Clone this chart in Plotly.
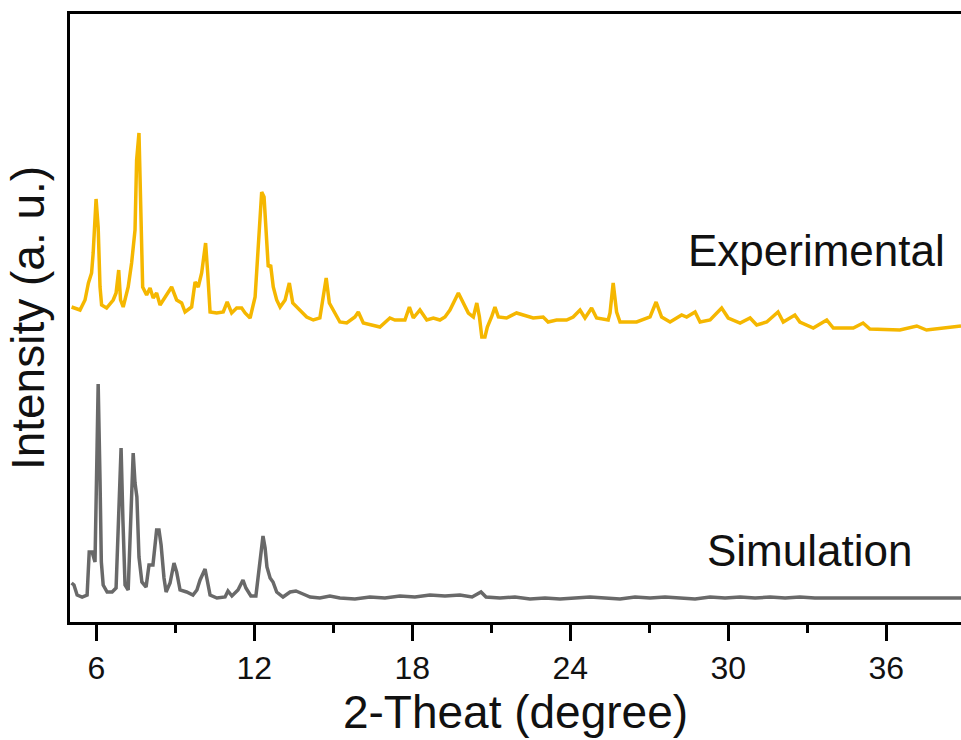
import plotly.graph_objects as go

# Powder XRD patterns: 2-theta (degree) and intensity (a.u.)
sim_theta = [5.06, 5.15, 5.27, 5.46, 5.65, 5.73, 5.84, 5.95, 6.03, 6.07, 6.14, 6.19, 6.26, 6.41,
             6.60, 6.75, 6.86, 6.94, 7.01, 7.09, 7.21, 7.28, 7.40, 7.47, 7.54, 7.62, 7.73, 7.89,
             8.00, 8.15, 8.29, 8.38, 8.46, 8.57, 8.65, 8.80, 8.95, 9.05, 9.18, 9.43, 9.67, 9.82,
             9.94, 10.13, 10.24, 10.32, 10.58, 10.89, 11.00, 11.15, 11.38, 11.57, 11.68, 11.87,
             12.06, 12.22, 12.33, 12.41, 12.48, 12.60, 12.71, 12.85, 13.09, 13.36, 13.58, 13.85,
             14.12, 14.49, 14.87, 15.25, 15.82, 16.39, 16.96, 17.53, 18.10, 18.67, 19.24, 19.81,
             20.27, 20.61, 20.80, 21.33, 21.90, 22.47, 23.04, 23.61, 24.18, 24.75, 25.32, 25.89,
             26.46, 27.03, 27.60, 28.17, 28.74, 29.31, 29.88, 30.45, 31.02, 31.59, 32.16, 32.72,
             33.29, 33.86, 35.00, 36.52, 38.84]
sim_intensity = [39, 37, 27, 25, 27, 70, 70, 60, 177, 238, 142, 60, 37, 30,
                 30, 34, 115, 174, 102, 37, 32, 92, 169, 139, 125, 65, 40, 35,
                 57, 57, 92, 92, 77, 44, 30, 39, 59, 50, 32, 30, 27, 32,
                 42, 53, 37, 27, 24, 25, 31, 26, 32, 42, 34, 26,
                 26, 62, 86, 74, 55, 44, 40, 30, 25, 30, 31, 28,
                 25, 24, 26, 24, 23, 25, 24, 26, 25, 27, 26, 27,
                 25, 30, 25, 24, 25, 23, 24, 23, 24, 25, 24, 23,
                 25, 24, 25, 24, 23, 25, 24, 25, 24, 25, 24, 25,
                 24, 24, 24, 24, 24]

exp_theta = [5.06, 5.38, 5.57, 5.70, 5.82, 5.88, 5.99, 6.07, 6.14, 6.20, 6.39, 6.64, 6.75, 6.85,
             6.92, 7.02, 7.21, 7.34, 7.47, 7.53, 7.62, 7.70, 7.76, 7.91, 8.04, 8.16, 8.29, 8.42,
             8.67, 8.86, 9.05, 9.24, 9.37, 9.62, 9.75, 9.87, 10.00, 10.15, 10.23, 10.32, 10.57,
             10.82, 10.97, 11.14, 11.33, 11.52, 11.65, 11.84, 12.03, 12.15, 12.22, 12.28, 12.37,
             12.44, 12.53, 12.62, 12.72, 12.85, 12.98, 13.17, 13.33, 13.46, 13.74, 13.99, 14.24,
             14.49, 14.73, 14.85, 15.06, 15.25, 15.51, 15.82, 15.95, 16.14, 16.77, 17.15, 17.34,
             17.72, 17.89, 18.04, 18.29, 18.55, 18.80, 19.05, 19.24, 19.43, 19.75, 19.94, 20.13,
             20.32, 20.45, 20.55, 20.64, 20.76, 20.85, 21.01, 21.14, 21.27, 21.58, 21.96, 22.22,
             22.59, 22.97, 23.16, 23.48, 23.86, 24.11, 24.37, 24.56, 24.81, 25.00, 25.44, 25.51,
             25.63, 25.76, 25.89, 26.27, 26.52, 27.03, 27.26, 27.47, 27.79, 28.04, 28.23, 28.42,
             28.74, 28.93, 29.31, 29.75, 30.00, 30.45, 30.83, 31.08, 31.46, 31.89, 32.09, 32.53,
             32.72, 33.23, 33.74, 33.99, 34.75, 35.12, 35.38, 36.52, 37.16, 37.53, 38.29, 38.84]
exp_intensity = [15, 12, 22, 39, 49, 69, 123, 95, 35, 17, 14, 22, 29, 52,
                 22, 15, 35, 59, 92, 162, 189, 99, 35, 27, 34, 24, 29, 17,
                 27, 35, 22, 19, 10, 15, 40, 35, 49, 79, 49, 10, 9,
                 10, 20, 9, 14, 14, 9, 4, 25, 72, 102, 130, 125,
                 95, 55, 57, 35, 22, 15, 22, 39, 19, 12, 5, 2,
                 4, 44, 19, 9, 0, -1, 5, 10, -1, -5, 4, 2,
                 2, 15, 4, 12, 2, 4, 2, 5, 12, 29, 19, 9,
                 5, 19, 5, -15, -15, -5, 5, 15, 5, 4, 9, 7,
                 4, 5, 0, 2, 2, 5, 12, 4, 14, 4, 2, 9,
                 39, 10, 0, 0, 0, 5, 20, 5, 0, 4, 7, 5,
                 10, 0, 2, 14, 4, -1, 4, -3, 0, 10, 0, 7,
                 0, -6, 2, -6, -6, -1, -7, -8, -4, -8, -6, -4]

exp_offset = 300  # vertical shift of the experimental pattern

x_ticks = [6, 12, 18, 24, 30, 36]
font_family = "Liberation Sans, Arial, sans-serif"

fig = go.Figure()
fig.add_trace(go.Scatter(x=sim_theta, y=sim_intensity, mode="lines",
                         line=dict(color="#696969", width=3.5), name="Simulation"))
fig.add_trace(go.Scatter(x=exp_theta, y=[v + exp_offset for v in exp_intensity], mode="lines",
                         line=dict(color="#f5b700", width=3.5), name="Experimental"))

fig.add_annotation(x=33.37, y=372, xref="x", yref="y", text="Experimental", showarrow=False,
                   font=dict(family=font_family, size=44, color="#111111"))
fig.add_annotation(x=33.1, y=72, xref="x", yref="y", text="Simulation", showarrow=False,
                   font=dict(family=font_family, size=44, color="#111111"))

fig.update_layout(
    width=961, height=740,
    margin=dict(l=70, r=0, t=14, b=118),
    paper_bgcolor="white", plot_bgcolor="white",
    showlegend=False,
    font=dict(family=font_family, color="#111111"),
    xaxis=dict(
        range=[5.0, 38.84], tickvals=x_ticks, ticktext=[str(t) for t in x_ticks],
        ticks="outside", ticklen=16, tickwidth=3, tickcolor="black",
        minor=dict(dtick=3, tick0=0, ticks="outside", ticklen=8, tickwidth=3, tickcolor="black"),
        showline=True, linewidth=3, linecolor="black", mirror=True,
        showgrid=False, zeroline=False,
        tickfont=dict(size=32, family=font_family, color="#111111"),
        title=dict(text="2-Theat (degree)", font=dict(size=46, family=font_family, color="#111111"),
                   standoff=6),
        automargin=False,
    ),
    yaxis=dict(
        range=[0, 608], showticklabels=False, ticks="",
        showline=True, linewidth=3, linecolor="black", mirror=False,
        showgrid=False, zeroline=False,
        title=dict(text="Intensity (a. u.)", font=dict(size=46, family=font_family, color="#111111"),
                   standoff=8),
        automargin=False,
    ),
)

fig.write_html("out.html")
